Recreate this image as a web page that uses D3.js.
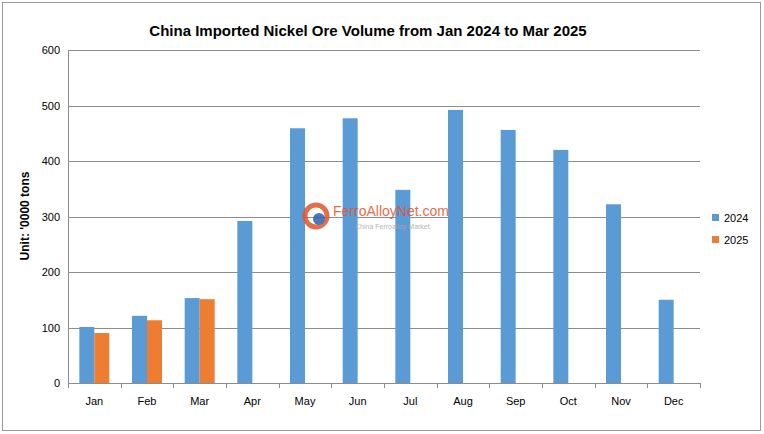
<!DOCTYPE html>
<html><head><meta charset="utf-8">
<script src="https://cdn.jsdelivr.net/npm/d3@7"></script>
<style>body{margin:0;background:#fff;font-family:Arial,"Liberation Sans",sans-serif}</style>
</head><body>
<script>
// chart data
var months = ["Jan","Feb","Mar","Apr","May","Jun","Jul","Aug","Sep","Oct","Nov","Dec"];
var series = ["2024","2025"];
var values2024 = [101,121,153,292,459,477,348,492,456,420,322,150];
var values2025 = [90,113,151];
var yTicks = [0,100,200,300,400,500,600];
var colors = ["#5b9bd5","#ed7d31"];

var width = 764, height = 434;
var svg = d3.select("body").append("svg").attr("width", width).attr("height", height);

svg.append("rect").attr("x",2.5).attr("y",2.5).attr("width",758).attr("height",428)
  .attr("fill","#fff").attr("stroke","#9a9a9a");

var plotL = 68, plotR = 700, plotT = 50, plotB = 383;

var x = d3.scaleBand().domain(months).range([plotL, plotR]);
var y = d3.scaleLinear().domain([0,600]).range([plotB, plotT]);
var barW = 15;

//gridlines
svg.selectAll(".grid").data(yTicks).enter().append("line")
  .attr("x1", plotL).attr("x2", plotR)
  .attr("y1", function(d){ return Math.round(y(d))+0.5; }).attr("y2", function(d){ return Math.round(y(d))+0.5; })
  .attr("stroke", "#8c8c8c").attr("stroke-width", 1);
svg.append("line").attr("x1",plotL+0.5).attr("x2",plotL+0.5).attr("y1",plotT).attr("y2",plotB)
  .attr("stroke","#8c8c8c");

//y tick labels
svg.selectAll(".ytl").data(yTicks).enter().append("text")
  .attr("x", plotL-8).attr("y", function(d){ return y(d)+4; })
  .attr("text-anchor","end").attr("font-size",11).attr("fill","#000").text(function(d){ return d; });

//x tick marks & labels
svg.selectAll(".xt").data(d3.range(months.length+1)).enter().append("line")
  .attr("x1", function(i){ return Math.round(plotL + i*x.bandwidth())+0.5; })
  .attr("x2", function(i){ return Math.round(plotL + i*x.bandwidth())+0.5; })
  .attr("y1", plotB).attr("y2", plotB+5).attr("stroke","#8c8c8c");
svg.selectAll(".xtl").data(months).enter().append("text")
  .attr("x", function(d){ return x(d)+x.bandwidth()/2; }).attr("y", plotB+22)
  .attr("text-anchor","middle").attr("font-size",11).text(function(d){ return d; });

//bars
svg.selectAll(".b24").data(values2024).enter().append("rect")
  .attr("x", function(d,i){ return x(months[i])+x.bandwidth()/2-barW; })
  .attr("y", function(d){ return y(d); }).attr("width", barW)
  .attr("height", function(d){ return plotB-y(d); }).attr("fill", colors[0]);
svg.selectAll(".b25").data(values2025).enter().append("rect")
  .attr("x", function(d,i){ return x(months[i])+x.bandwidth()/2; })
  .attr("y", function(d){ return y(d); }).attr("width", barW)
  .attr("height", function(d){ return plotB-y(d); }).attr("fill", colors[1]);

//title and axis label
svg.append("text").attr("x",368).attr("y",36).attr("text-anchor","middle")
  .attr("font-size",15).attr("font-weight","bold").text("China Imported Nickel Ore Volume from Jan 2024 to Mar 2025");
svg.append("text").attr("transform","translate(29,216) rotate(-90)").attr("text-anchor","middle")
  .attr("font-size",12).attr("font-weight","bold").text("Unit: '0000 tons");

//watermark
var wm = svg.append("g").attr("opacity",0.85);
wm.append("circle").attr("cx",316).attr("cy",216).attr("r",11).attr("fill","none")
  .attr("stroke","#e2542b").attr("stroke-width",5);
wm.append("circle").attr("cx",319).attr("cy",219).attr("r",6).attr("fill","#2a62b0");
wm.append("text").attr("x",333).attr("y",216).attr("font-size",14).attr("fill","#e2542b").text("FerroAlloyNet.com");
wm.append("text").attr("x",355).attr("y",229).attr("font-size",7).attr("fill","#aaa").text("China Ferroalloy Market");

//legend
var leg = svg.selectAll(".leg").data(series).enter().append("g")
  .attr("transform", function(d,i){ return "translate(712," + (218 + i*22) + ")"; });
leg.append("rect").attr("x",0).attr("y",-4).attr("width",7).attr("height",7)
  .attr("fill", function(d,i){ return colors[i]; });
leg.append("text").attr("x",12).attr("y",4).attr("font-size",11).text(function(d){ return d; });
</script>
</body></html>
